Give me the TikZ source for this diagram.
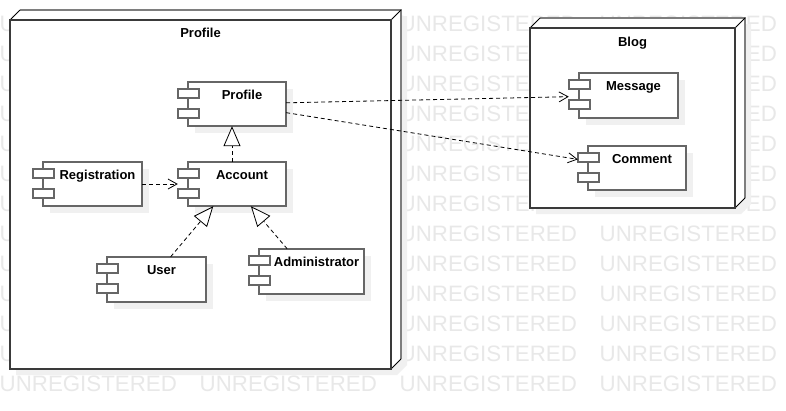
\documentclass[tikz,border=0pt]{standalone}
\usepackage{fontspec}
\setmainfont{Liberation Sans}
\usetikzlibrary{arrows.meta,calc}
\definecolor{frontc}{HTML}{3A3A3A}
\definecolor{sidec}{HTML}{7E7E7E}
\definecolor{compc}{HTML}{666666}
\definecolor{shadowc}{HTML}{F0F0F0}
\definecolor{wmc}{HTML}{E8E8E8}
\tikzset{
  wm/.style={text=wmc, font=\fontsize{22.3}{24}\selectfont, anchor=base west, inner sep=0},
  compbox/.style={inner sep=0, draw=none},
  comptext/.style={inner sep=0, anchor=base, font=\bfseries\fontsize{13}{15}\selectfont},
  compline/.style={draw=compc, line width=1.3pt, fill=white},
  frontface/.style={draw=frontc, line width=1.6pt, fill=white, inner sep=0},
  sideedge/.style={draw=sidec, line width=1.5pt},
  diagedge/.style={draw=black, line width=0.8pt},
  dashline/.style={draw=black, line width=0.8pt, dash pattern=on 4pt off 3pt},
  dep/.style={dashline, -{Straight Barb[length=9pt,width=10pt]}},
  real/.style={dashline, -{Triangle[length=20pt,width=17pt,fill=white]}}
}
% name, left (incl. tabs), top, right, bottom, label
\newcommand{\umlcomp}[6]{%
  \fill[shadowc] ({#2+17},{#3+7}) rectangle ({#4+7},{#5+7});
  \draw[compline] ({#2+10},#3) rectangle (#4,#5);
  \draw[compline] (#2,{#3+7}) rectangle ++(21,9);
  \draw[compline] (#2,{#3+27}) rectangle ++(21,9);
  \node[compbox, minimum width={#4-#2}, minimum height={#5-#3}] (#1) at ({(#2+#4)/2},{(#3+#5)/2}) {};
  \node[comptext] (#1-label) at ({(#2+#4)/2+10},{#3+17}) {#6};
}
\begin{document}
\begin{tikzpicture}[x=1pt,y=-1pt]
\useasboundingbox (0,0) rectangle (786,410);
\clip (0,0) rectangle (786,410);
\fill[white] (0,0) rectangle (786,410);
% watermark
\foreach \r in {0,...,12}{
  \foreach \c in {0,...,3}{
    \node[wm] (wm-\r-\c) at ({\c*200-0.5},{31+\r*30}) {UNREGISTERED};
  }
}
% Profile node (3D box)
\fill[shadowc] (26,16) -- (407,16) -- (407,365) -- (397,375) -- (16,375) -- (16,26) -- cycle;
\fill[white] (10,20) -- (20,10) -- (401,10) -- (401,359) -- (391,369) -- (10,369) -- cycle;
\draw[sideedge] (20,10) -- (401,10) -- (401,359);
\draw[diagedge] (10,20) -- (20,10);
\draw[diagedge] (391,20) -- (401,10);
\draw[diagedge] (391,369) -- (401,359);
\node[frontface, minimum width=381, minimum height=349] (profilebox) at (200.5,194.5) {};
\node[comptext] (profilebox-title) at (200.5,37) {Profile};
% Blog node (3D box)
\fill[shadowc] (546,24) -- (751,24) -- (751,204) -- (741,214) -- (536,214) -- (536,34) -- cycle;
\fill[white] (530,28) -- (540,18) -- (745,18) -- (745,198) -- (735,208) -- (530,208) -- cycle;
\draw[sideedge] (540,18) -- (745,18) -- (745,198);
\draw[diagedge] (530,28) -- (540,18);
\draw[diagedge] (735,28) -- (745,18);
\draw[diagedge] (735,208) -- (745,198);
\node[frontface, minimum width=205, minimum height=180] (blogbox) at (632.5,118) {};
\node[comptext] (blogbox-title) at (632.5,46) {Blog};
% components
\umlcomp{profile}{178}{82}{286}{126}{Profile}
\umlcomp{account}{178}{162}{286}{206}{Account}
\umlcomp{registration}{33}{162}{142}{206}{Registration}
\umlcomp{user}{97}{257}{206}{302}{User}
\umlcomp{admin}{249}{249}{364}{294}{Administrator}
\umlcomp{message}{569}{73}{678}{118}{Message}
\umlcomp{comment}{578}{146}{686}{190}{Comment}
% connectors
\draw[dep] (registration) -- (account);
\draw[real] (account) -- (profile);
\draw[real] (user) -- (account);
\draw[real] (admin) -- (account);
\draw[dep] (profile) -- (message);
\draw[dep] (profile) -- (comment);
\end{tikzpicture}
\end{document}
